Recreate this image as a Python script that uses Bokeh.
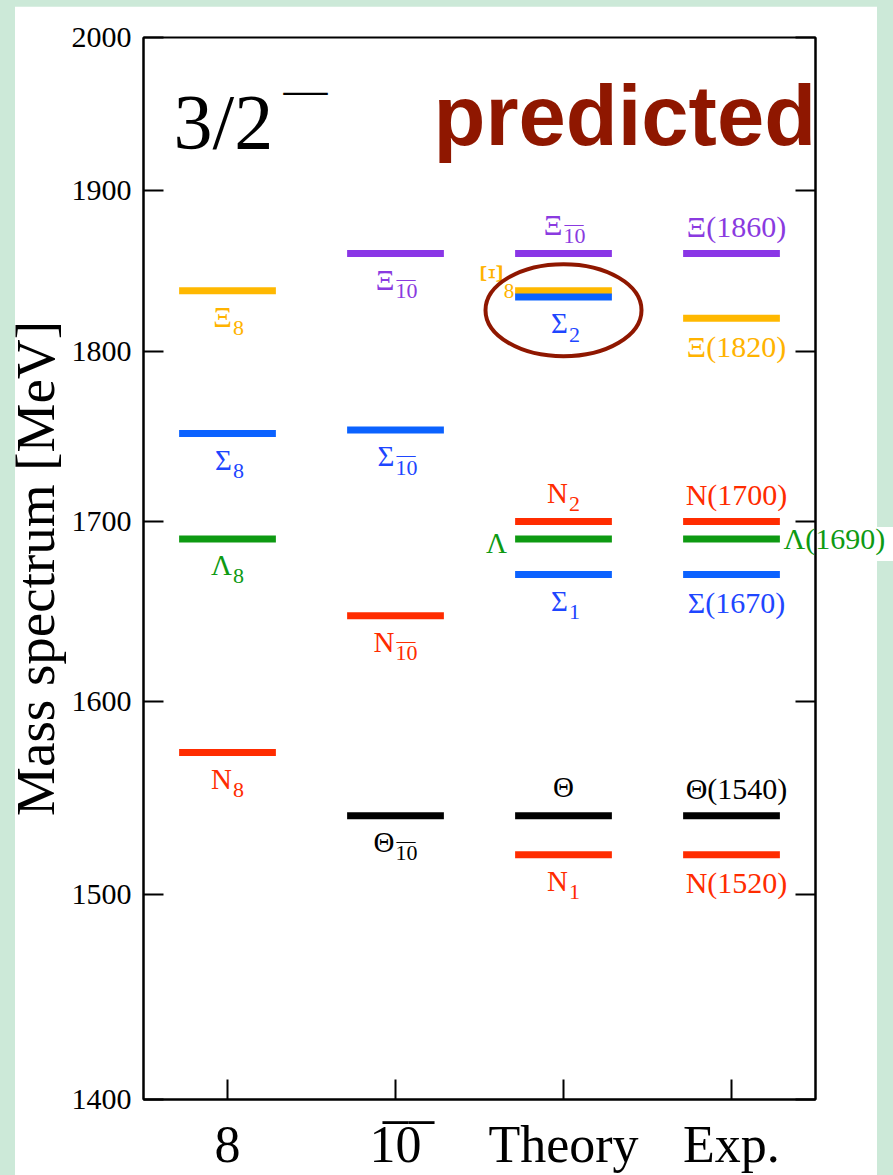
from bokeh.plotting import figure
from bokeh.models import Range1d, FixedTicker, LogAxis, BasicTickFormatter, Div
from bokeh.layouts import column
from bokeh.core.properties import value
from bokeh.embed import file_html
from bokeh.resources import INLINE

# ---------------- data ----------------
columns = ["8", "1\u03050\u0305", "Theory", "Exp."]
col_x = [1, 2, 3, 4]

octet_sym = ["Ξ", "Σ", "Λ", "N"]
octet_sub = ["8", "8", "8", "8"]
octet_family = ["xi8", "sigma", "lambda", "n"]
octet_mass = [1837, 1751, 1690, 1573]

anti_sym = ["Ξ", "Σ", "N", "Θ"]
anti_sub = ["10", "10", "10", "10"]
anti_family = ["xi10", "sigma", "n", "theta"]
anti_mass = [1860, 1753, 1647, 1540]

theory_sym = ["Ξ", "Ξ", "Σ", "N", "Λ", "Σ", "Θ", "N"]
theory_sub = ["10", "8", "2", "2", "", "1", "", "1"]
theory_family = ["xi10", "xi8", "sigma", "n", "lambda", "sigma", "theta", "n"]
theory_side = ["above", "left-rot", "below", "above", "left", "below", "above", "below"]
theory_mass = [1860, 1837, 1833, 1700, 1690, 1670, 1540, 1520]

exp_label = ["Ξ(1860)", "Ξ(1820)", "N(1700)", "Λ(1690)", "Σ(1670)", "Θ(1540)", "N(1520)"]
exp_family = ["xi10", "xi8", "n", "lambda", "sigma", "theta", "n"]
exp_side = ["above", "below", "above", "right", "below", "above", "below"]
exp_mass = [1860, 1820, 1700, 1690, 1670, 1540, 1520]

y_ticks = [1400, 1500, 1600, 1700, 1800, 1900, 2000]

# ---------------- styles ----------------
bar_color = {"xi10": "#8A36E6", "xi8": "#FFB800", "sigma": "#0B62FF",
             "lambda": "#0E9A12", "n": "#FF2C00", "theta": "#000000"}
text_color = {"xi10": "#8A3AE0", "xi8": "#FFB300", "sigma": "#1E46FF",
              "lambda": "#0E9A12", "n": "#FF2C00", "theta": "#000000"}
DARK = "#8F1700"
MINT = "#CCE9D8"
SERIF = "Liberation Serif"
HW = 0.288          # half width of a level bar (x units)
MAIN_FS = 29
EXP_FS = 30
SUB_FS = 22
BASE_K = 0.34       # alphabetic-baseline correction (fraction of font size)

p = figure(width=893, height=1169, x_range=Range1d(0.5, 4.5), y_range=Range1d(1400, 2000),
           y_axis_type="log", output_backend="svg", toolbar_location=None,
           min_border_left=143, min_border_right=78, min_border_top=31, min_border_bottom=75,
           background_fill_color="white", border_fill_color="white")
p.margin = (6, 0, 0, 0)
p.xgrid.visible = False
p.ygrid.visible = False
p.outline_line_color = "black"
p.outline_line_width = 2

# y axis (left)
ya = p.yaxis[0]
ya.ticker = FixedTicker(ticks=y_ticks)
ya.formatter = BasicTickFormatter(use_scientific=False)
ya.axis_label = "Mass spectrum [MeV]"
ya.axis_label_text_font = SERIF
ya.axis_label_text_font_style = "normal"
ya.axis_label_text_font_size = "55px"
ya.axis_label_text_color = "black"
ya.axis_label_standoff = 3
ya.major_label_text_font = SERIF
ya.major_label_text_font_size = "30px"
ya.major_label_text_color = "black"
ya.major_label_standoff = 12
ya.major_tick_in = 20
ya.major_tick_out = 0
ya.minor_tick_in = 0
ya.minor_tick_out = 0
ya.axis_line_width = 2
ya.major_tick_line_width = 2

# x axis
xa = p.xaxis[0]
xa.ticker = FixedTicker(ticks=col_x)
xa.major_label_overrides = {c: t for c, t in zip(col_x, columns)}
xa.major_label_text_font = SERIF
xa.major_label_text_font_size = "52px"
xa.major_label_text_color = "black"
xa.major_label_standoff = 16
xa.major_tick_in = 20
xa.major_tick_out = 0
xa.minor_tick_in = 0
xa.minor_tick_out = 0
xa.axis_line_width = 2
xa.major_tick_line_width = 2

# right axis (ticks only)
ra = LogAxis(ticker=FixedTicker(ticks=y_ticks), major_label_overrides={t: "" for t in y_ticks},
             major_label_text_font_size="1px", major_label_standoff=0,
             major_tick_in=20, major_tick_out=0, minor_tick_in=0, minor_tick_out=0,
             axis_line_width=2, major_tick_line_width=2)
p.add_layout(ra, "right")

# experimental label that sticks out of the frame on the right (as an extra axis label)
for t, f, sd, m in zip(exp_label, exp_family, exp_side, exp_mass):
    if sd == "right":
        la = LogAxis(ticker=FixedTicker(ticks=[m]), major_label_overrides={m: t},
                     major_label_text_font=SERIF, major_label_text_font_size=f"{EXP_FS}px",
                     major_label_text_color=text_color[f], major_label_standoff=-32,
                     major_tick_in=0, major_tick_out=0, minor_tick_in=0, minor_tick_out=0,
                     axis_line_color=None, major_tick_line_color=None)
        try:
            la.major_label_background_fill_color = "white"
        except Exception:
            pass
        p.add_layout(la, "right")


def txt(x, y, s, color, size, align="center", baseline="alphabetic", dx=0, dy=0,
        font=SERIF, style="normal", angle=0.0):
    if baseline == "alphabetic":
        dy = dy - BASE_K * size
    p.text(x=[x], y=[y], text=[s], text_color=color, text_font=value(font),
           text_font_size=f"{size}px", text_align=align, text_baseline=baseline,
           x_offset=dx, y_offset=dy, angle=angle, text_font_style=style)


def bars(xc, masses, families):
    p.segment(x0=[xc - HW] * len(masses), x1=[xc + HW] * len(masses), y0=masses, y1=masses,
              line_width=7, line_color=[bar_color[f] for f in families], line_cap="butt")


def multiplet_label(xc, m, sym, sub, fam, side):
    c = text_color[fam]
    if side in ("above", "below"):
        dy = 36 if side == "below" else -19
        if sub == "":
            txt(xc, m, sym, c, MAIN_FS, "center", dy=dy)
            return
        w_main, w_sub = 20, 11 * len(sub)
        off = (w_main - w_sub) / 2
        txt(xc, m, sym, c, MAIN_FS, "right", dx=off, dy=dy)
        txt(xc, m, sub, c, SUB_FS, "left", dx=off + 1, dy=dy + 9)
        if sub == "10":
            txt(xc, m, "—", c, 19, "left", dx=off + 2, dy=dy - 5)
    elif side == "left":
        txt(xc - HW, m, sym, c, MAIN_FS, "right", dx=-8, dy=14)
    elif side == "left-rot":
        txt(xc - HW, m, sym, c, 31, "center", "middle", dx=-24, dy=-17, angle=1.5708)
        txt(xc - HW, m, sub, c, 21, "center", "middle", dx=-6, dy=0)


# columns 8 and 10bar
bars(col_x[0], octet_mass, octet_family)
for s, sb, f, m in zip(octet_sym, octet_sub, octet_family, octet_mass):
    multiplet_label(col_x[0], m, s, sb, f, "below")

bars(col_x[1], anti_mass, anti_family)
for s, sb, f, m in zip(anti_sym, anti_sub, anti_family, anti_mass):
    multiplet_label(col_x[1], m, s, sb, f, "below")

# theory
bars(col_x[2], theory_mass, theory_family)
for s, sb, f, sd, m in zip(theory_sym, theory_sub, theory_family, theory_side, theory_mass):
    multiplet_label(col_x[2], m, s, sb, f, sd)

# experiment
bars(col_x[3], exp_mass, exp_family)
for t, f, sd, m in zip(exp_label, exp_family, exp_side, exp_mass):
    if sd == "above":
        txt(col_x[3], m, t, text_color[f], EXP_FS, "center", dx=5, dy=-17)
    elif sd == "below":
        txt(col_x[3], m, t, text_color[f], EXP_FS, "center", dx=5, dy=38)

# highlight ellipse around Sigma_2
p.ellipse(x=[col_x[2]], y=[1825], width=156, height=92, width_units="screen",
          height_units="screen", fill_color=None, line_color=DARK, line_width=4)

# headings
txt(col_x[0], 1900, "3/2", "black", 78, "left", dx=-54, dy=-42)
txt(col_x[0], 1900, "—", "black", 44, "left", dx=56, dy=-86)
txt(col_x[2], 1900, "predicted", DARK, 85, "left", dx=-130, dy=-46,
    font="Liberation Sans", style="bold")


def strip(left, top, w, h):
    return Div(text="", width=w, height=h, margin=0,
               styles={"position": "absolute", "left": f"{left}px", "top": f"{top}px",
                       "background-color": MINT, "z-index": "5", "pointer-events": "none"})


layout = column(p, strip(0, 0, 15, 1175), strip(877, 0, 16, 527), strip(877, 561, 16, 614),
                width=893, height=1175,
                styles={"background-color": MINT, "position": "relative"})

open("out.html", "w").write(file_html(layout, INLINE))
